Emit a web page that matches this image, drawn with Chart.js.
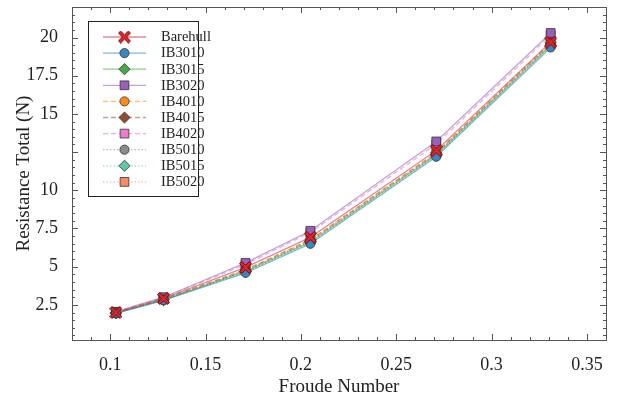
<!DOCTYPE html>
<html>
<head>
<meta charset="utf-8">
<script src="https://cdn.jsdelivr.net/npm/chart.js@4/dist/chart.umd.min.js"></script>
<style>
  html, body { margin: 0; padding: 0; background: #fff; }
  #wrap { width: 625px; height: 398px; }
</style>
</head>
<body>
<div id="wrap"><canvas id="myChart" width="625" height="398"></canvas></div>
<script>
// froude numbers of the test runs
const froude = [0.103, 0.128, 0.171, 0.205, 0.271, 0.331];

const names = ["Barehull", "IB3010", "IB3015", "IB3020", "IB4010", "IB4015", "IB4020", "IB5010", "IB5015", "IB5020"];

const barehull = [2.00, 2.92, 4.95, 6.92, 12.60, 19.70];
const ib3010 = [1.95, 2.80, 4.60, 6.50, 12.20, 19.35];
const ib3015 = [1.97, 2.83, 4.70, 6.62, 12.32, 19.50];
const ib3020 = [2.05, 3.00, 5.25, 7.35, 13.20, 20.30];
const ib4010 = [1.97, 2.86, 4.76, 6.72, 12.42, 19.62];
const ib4015 = [1.98, 2.88, 4.80, 6.76, 12.46, 19.66];
const ib4020 = [2.04, 2.97, 5.15, 7.25, 13.02, 20.15];
const ib5010 = [1.96, 2.84, 4.72, 6.66, 12.36, 19.56];
const ib5015 = [1.95, 2.81, 4.65, 6.56, 12.26, 19.45];
const ib5020 = [1.98, 2.87, 4.78, 6.74, 12.42, 19.62];

const xTicks = [0.1, 0.15, 0.2, 0.25, 0.3, 0.35];
const yTicks = [2.5, 5, 7.5, 10, 15, 17.5, 20];

// red X marker for the bare hull
function makeCross() {
    const c = document.createElement("canvas");
    c.width = 13; c.height = 13;
    const g = c.getContext("2d");
    const a = 5.2, t = 1.9;
    g.translate(6.5, 6.5);
    g.beginPath();
    const pts = [[0, -t], [a - t, -a], [a, -a + t], [t, 0], [a, a - t], [a - t, a],
                 [0, t], [-a + t, a], [-a, a - t], [-t, 0], [-a, -a + t], [-a + t, -a]];
    pts.forEach((p, i) => i ? g.lineTo(p[0] * 1.15, p[1] * 1.15) : g.moveTo(p[0] * 1.15, p[1] * 1.15));
    g.closePath();
    g.fillStyle = "#e8222a";
    g.fill();
    g.lineWidth = 1;
    g.strokeStyle = "#5a1010";
    g.stroke();
    return c;
}
const crossImg = makeCross();

const series = [barehull, ib3010, ib3015, ib3020, ib4010, ib4015, ib4020, ib5010, ib5015, ib5020];
const lineCols = ["rgba(200,60,80,0.6)", "rgba(31,119,180,0.55)", "rgba(44,160,44,0.55)", "rgba(148,103,189,0.6)",
                  "rgba(255,127,14,0.55)", "rgba(140,86,75,0.55)", "rgba(227,119,194,0.6)",
                  "rgba(127,127,127,0.55)", "rgba(80,195,160,0.55)", "rgba(250,130,90,0.55)"];
const fillCols = ["#e8222a", "#3a86c0", "#4aa84a", "#9a5fb8", "#ff8a1a", "#8c5030", "#ee7ccc", "#8a8a8a", "#5cc8a6", "#f88a64"];
const styles = [crossImg, "circle", "rectRot", "rect", "circle", "rectRot", "rect", "circle", "rectRot", "rect"];
const radii = { circle: 4.6, rectRot: 5.6, rect: 6.2 };
const dashes = [[], [], [], [], [5, 3], [5, 3], [5, 3], [1.5, 2], [1.5, 2], [1.5, 2]];

const datasets = names.map((n, i) => ({
    label: n,
    data: froude.map((f, j) => ({ x: f, y: series[i][j] })),
    borderColor: lineCols[i],
    borderWidth: 1.3,
    borderDash: dashes[i],
    pointStyle: styles[i],
    pointRadius: i === 0 ? 6 : radii[styles[i]],
    pointBackgroundColor: fillCols[i],
    pointBorderColor: "#333",
    pointBorderWidth: 0.8,
    tension: 0
}));

const serif = "'Liberation Serif', 'Times New Roman', serif";

// frame and inward tick marks on all four sides
const frameTicks = {
    id: "frameTicks",
    afterDraw(chart) {
        const { ctx, chartArea: a, scales } = chart;
        const xs = scales.x, ys = scales.y;
        ctx.save();
        ctx.strokeStyle = "#555";
        ctx.lineWidth = 1;
        ctx.beginPath();
        for (let k = 8; k <= 36; k++) {
            const px = Math.round(xs.getPixelForValue(k / 100)) + 0.5;
            const len = k % 5 === 0 ? 6 : 3;
            ctx.moveTo(px, a.bottom); ctx.lineTo(px, a.bottom - len);
            ctx.moveTo(px, a.top); ctx.lineTo(px, a.top + len);
        }
        for (let k = 1; k <= 43; k++) {
            const py = Math.round(ys.getPixelForValue(k * 0.5)) + 0.5;
            const len = k % 5 === 0 ? 6 : 3;
            ctx.moveTo(a.left, py); ctx.lineTo(a.left + len, py);
            ctx.moveTo(a.right, py); ctx.lineTo(a.right - len, py);
        }
        ctx.stroke();
        ctx.strokeRect(Math.round(a.left) + 0.5, Math.round(a.top) + 0.5,
                       Math.round(a.right - a.left), Math.round(a.bottom - a.top));
        ctx.restore();
    }
};

// boxed legend in the upper left of the plot
const boxLegend = {
    id: "boxLegend",
    afterDraw(chart) {
        const ctx = chart.ctx;
        ctx.save();
        ctx.fillStyle = "#fff";
        ctx.fillRect(88, 21, 110, 175);
        ctx.strokeStyle = "#222";
        ctx.lineWidth = 1;
        ctx.strokeRect(88.5, 21.5, 110, 175);
        chart.data.datasets.forEach((ds, i) => {
            const y = 37 + i * 16.1;
            ctx.strokeStyle = ds.borderColor;
            ctx.lineWidth = ds.borderWidth;
            ctx.setLineDash(ds.borderDash);
            ctx.beginPath();
            ctx.moveTo(103, y); ctx.lineTo(146, y);
            ctx.stroke();
            ctx.setLineDash([]);
            ctx.fillStyle = ds.pointBackgroundColor;
            ctx.strokeStyle = ds.pointBorderColor;
            ctx.lineWidth = ds.pointBorderWidth;
            Chart.helpers.drawPoint(ctx, { pointStyle: ds.pointStyle, radius: ds.pointRadius, rotation: 0, borderWidth: ds.pointBorderWidth }, 124.5, y);
            ctx.fillStyle = "#222";
            ctx.font = "14.5px " + serif;
            ctx.textBaseline = "middle";
            ctx.fillText(ds.label, 161, y + 0.5);
        });
        ctx.restore();
    }
};

const ctx = document.getElementById("myChart").getContext("2d");
new Chart(ctx, {
    type: "line",
    data: { datasets: datasets },
    options: {
        responsive: false,
        animation: false,
        layout: { padding: { top: 5, right: 19, left: 0, bottom: 0 } },
        plugins: { legend: { display: false }, tooltip: { enabled: false } },
        scales: {
            x: {
                type: "linear",
                min: 0.08,
                max: 0.36,
                afterBuildTicks: s => { s.ticks = xTicks.map(v => ({ value: v })); },
                afterFit: s => { s.height = 58; s.paddingLeft = 0; s.paddingRight = 0; },
                grid: { display: false },
                border: { display: false },
                ticks: { color: "#222", padding: 6, font: { family: serif, size: 18 }, callback: v => String(v) },
                title: { display: true, text: "Froude Number", color: "#222", padding: 0, font: { family: serif, size: 19 } }
            },
            y: {
                type: "linear",
                min: 0.2,
                max: 22,
                afterBuildTicks: s => { s.ticks = yTicks.map(v => ({ value: v })); },
                afterFit: s => { s.width = 72; s.paddingTop = 0; s.paddingBottom = 0; },
                grid: { display: false },
                border: { display: false },
                ticks: { color: "#222", padding: 6, font: { family: serif, size: 18 }, callback: v => String(v) },
                title: { display: true, text: "Resistance Total (N)", color: "#222", padding: { top: 13, bottom: 0 }, font: { family: serif, size: 19 } }
            }
        }
    },
    plugins: [frameTicks, boxLegend]
});
</script>
</body>
</html>
